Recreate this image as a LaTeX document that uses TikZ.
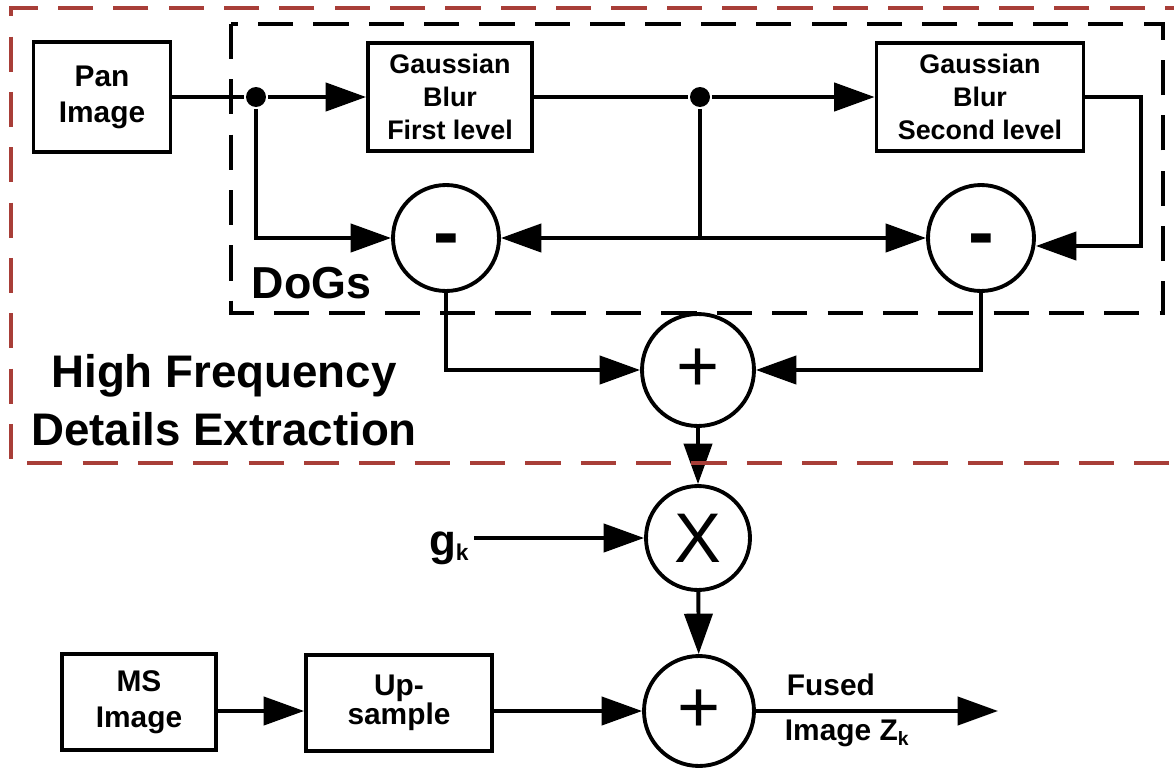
\documentclass[tikz,border=0pt]{standalone}
\usepackage{fontspec}
\setmainfont{Liberation Sans}
\usetikzlibrary{arrows.meta}
\definecolor{hfred}{RGB}{168,62,56}

\begin{document}
\begin{tikzpicture}[x=0.02cm, y=-0.02cm, line width=2.2pt,
  >={Triangle[length=23pt,width=16pt]},
  blk/.style={draw, align=center, inner sep=0pt, font=\bfseries\fontsize{17}{20.5}\selectfont},
  gblk/.style={blk, minimum width=#1, minimum height=2.16cm, font=\bfseries\fontsize{15.3}{18.7}\selectfont},
  op/.style={draw, circle, inner sep=0pt, minimum size=#1},
  dot/.style={circle, fill, inner sep=0pt, minimum size=0.4cm},
  dashbox/.style={dash pattern=on 20pt off 11.5pt}]
  \useasboundingbox (0,0) rectangle (1174,771);
  \clip (0,0) rectangle (1174,771);

  \node[blk, minimum width=2.74cm, minimum height=2.2cm] (pan) at (102,97) {Pan\\Image};
  \node[gblk=3.28cm] (g1) at (450,97) {Gaussian\\Blur\\First level};
  \node[gblk=4.14cm] (g2) at (980,97) {Gaussian\\Blur\\Second level};
  \node[dot] (d1) at (256,97) {};
  \node[dot] (d2) at (700,97) {};

  \node[op=2.12cm, text height=23pt, text depth=0pt, font=\bfseries\fontsize{44}{44}\selectfont] (m1) at (446,238) {-};
  \node[op=2.12cm, text height=23pt, text depth=0pt, font=\bfseries\fontsize{44}{44}\selectfont] (m2) at (981,238) {-};
  \node[op=2.24cm, font=\fontsize{42}{42}\selectfont] (p1) at (698,370) {+};
  \node[op=2.08cm, font=\fontsize{40}{40}\selectfont] (x1) at (698,538) {X};
  \node[op=2.2cm, font=\fontsize{42}{42}\selectfont] (p2) at (699,711) {+};

  \node[blk, minimum width=3.08cm, minimum height=1.92cm] (ms) at (139,702) {MS\\Image};
  \node[blk, minimum width=3.72cm, minimum height=1.92cm, font=\bfseries\fontsize{17}{16.5}\selectfont] (up) at (399,703) {Up-\\sample};

  \node[anchor=base west, font=\bfseries\fontsize{25.5}{30}\selectfont] (dogs) at (244,298) {DoGs};
  \node[align=center, font=\bfseries\fontsize{26}{33}\selectfont] (hf) at (224,400) {High Frequency\\Details Extraction};
  \node[anchor=base east, inner sep=2pt, font=\bfseries\fontsize{25}{30}\selectfont] (gk) at (474,555) {g\raisebox{-3pt}{\fontsize{13}{15}\selectfont k}};
  \node[anchor=base west, inner sep=0pt, font=\bfseries\fontsize{17}{20}\selectfont] (fused) at (785,695) {Fused};
  \node[anchor=base west, inner sep=0pt, font=\bfseries\fontsize{17}{20}\selectfont] (zk) at (783,740) {Image Z\raisebox{-3pt}{\fontsize{11}{13}\selectfont k}};

  \coordinate (j) at (700,238);
  \coordinate (rt) at (1141,246);
  \coordinate (out) at (998,711);

  \draw (pan) -- (d1);
  \draw[->] (d1) -- (g1);
  \draw[->] (d1) |- (m1);
  \draw (g1) -- (d2);
  \draw[->] (d2) -- (g2);
  \draw (d2) -- (j);
  \draw[->] (j) -- (m1);
  \draw[->] (j) -- (m2);
  \draw[->] (g2) -| (rt) -- (rt -| m2.east);
  \draw[->] (m1) |- (p1);
  \draw[->] (m2) |- (p1);
  \draw[->] (p1) -- (x1);
  \draw[->] (gk.east |- x1) -- (x1);
  \draw[->] (x1) -- (p2);
  \draw[->] (ms.east |- p2) -- (up.west |- p2);
  \draw[->] (up.east |- p2) -- (p2);
  \draw[->] (p2) -- (out);

  \draw[dashbox] (231,24) rectangle (1163,313);
  \draw[hfred, dashbox] (1200,8) -- (11,8) -- (11,463) -- (1200,463);
\end{tikzpicture}
\end{document}
